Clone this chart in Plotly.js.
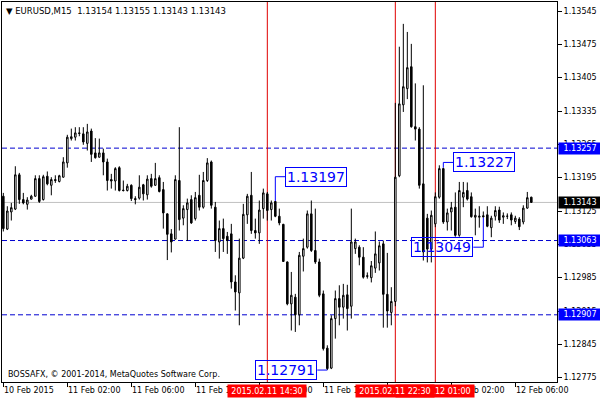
<!DOCTYPE html>
<html><head><meta charset="utf-8">
<script src="https://cdn.plot.ly/plotly-3.0.1.min.js"></script>
<style>html,body{margin:0;padding:0;background:#fff}#chart{width:600px;height:400px}</style>
</head><body><div id="chart"></div>
<script>
const symbol = 'EURUSD,M15';
const openP = [1.13156,1.13087,1.13123,1.13129,1.13201,1.13149,1.13139,1.13150,1.13156,1.13193,
1.13149,1.13198,1.13179,1.13191,1.13187,1.13196,1.13226,1.13277,1.13280,1.13289,
1.13287,1.13267,1.13293,1.13247,1.13238,1.13247,1.13228,1.13191,1.13188,1.13216,
1.13169,1.13168,1.13179,1.13151,1.13152,1.13180,1.13159,1.13193,1.13179,1.13195,
1.13170,1.13119,1.13077,1.13066,1.13189,1.13110,1.13128,1.13149,1.13109,1.13158,
1.13133,1.13189,1.13228,1.13133,1.13060,1.13088,1.13072,1.13077,1.12976,1.12953,
1.13026,1.13117,1.13158,1.13084,1.13079,1.13130,1.13161,1.13128,1.13145,1.13114,
1.13097,1.13018,1.12930,1.12944,1.12907,1.13030,1.13049,1.13119,1.13042,1.13018,
1.12951,1.12837,1.12795,1.12899,1.12941,1.12923,1.12949,1.12925,1.13046,1.13049,
1.13028,1.12989,1.12985,1.13005,1.13016,1.13056,1.12950,1.12912,1.12935,1.13199,
1.13348,1.13382,1.13428,1.13302,1.13297,1.13182,1.13110,1.13045,1.13098,1.13154,
1.13214,1.13102,1.13123,1.13133,1.13074,1.13154,1.13168,1.13155,1.13112,1.13112,
1.13115,1.13117,1.13090,1.13114,1.13127,1.13112,1.13114,1.13117,1.13103,1.13108,
1.13102,1.13131,1.13154];
const highP = [1.13163,1.13135,1.13142,1.13219,1.13205,1.13163,1.13154,1.13159,1.13200,1.13200,
1.13201,1.13208,1.13196,1.13200,1.13201,1.13238,1.13285,1.13298,1.13301,1.13301,
1.13301,1.13308,1.13298,1.13278,1.13277,1.13256,1.13235,1.13203,1.13217,1.13219,
1.13189,1.13182,1.13181,1.13156,1.13200,1.13182,1.13200,1.13203,1.13226,1.13200,
1.13186,1.13120,1.13087,1.13200,1.13301,1.13137,1.13151,1.13158,1.13165,1.13201,
1.13207,1.13236,1.13231,1.13144,1.13105,1.13109,1.13081,1.13098,1.12990,1.13067,
1.13140,1.13161,1.13207,1.13109,1.13147,1.13172,1.13165,1.13147,1.13146,1.13130,
1.13098,1.13019,1.12997,1.12951,1.13039,1.13067,1.13126,1.13147,1.13130,1.13025,
1.12958,1.12843,1.12906,1.12958,1.12969,1.12972,1.12970,1.13130,1.13067,1.13053,
1.13049,1.12996,1.13020,1.13082,1.13061,1.13063,1.13037,1.12965,1.13352,1.13470,
1.13518,1.13501,1.13476,1.13393,1.13301,1.13389,1.13119,1.13126,1.13164,1.13221,
1.13216,1.13130,1.13144,1.13164,1.13186,1.13186,1.13185,1.13164,1.13130,1.13135,
1.13124,1.13135,1.13115,1.13135,1.13134,1.13122,1.13120,1.13122,1.13115,1.13112,
1.13137,1.13165,1.13155];
const lowP = [1.13082,1.13085,1.13105,1.13127,1.13140,1.13139,1.13128,1.13149,1.13155,1.13142,
1.13147,1.13179,1.13158,1.13184,1.13185,1.13195,1.13216,1.13273,1.13273,1.13282,
1.13264,1.13252,1.13228,1.13235,1.13237,1.13200,1.13168,1.13172,1.13168,1.13166,
1.13166,1.13166,1.13146,1.13139,1.13149,1.13147,1.13149,1.13174,1.13178,1.13164,
1.13088,1.13022,1.13038,1.13065,1.13084,1.13095,1.13062,1.13098,1.13105,1.13126,
1.13130,1.13186,1.13130,1.13039,1.13025,1.13039,1.13035,1.12962,1.12916,1.12885,
1.13024,1.13098,1.13077,1.13067,1.13056,1.13109,1.13105,1.13105,1.13112,1.13095,
1.13018,1.12927,1.12874,1.12871,1.12885,1.12998,1.13046,1.13039,1.13014,1.12944,
1.12832,1.12791,1.12793,1.12857,1.12885,1.12899,1.12874,1.12899,1.13035,1.13011,
1.12983,1.12983,1.12975,1.12995,1.13000,1.12880,1.12880,1.12885,1.12925,1.13196,
1.13333,1.13360,1.13300,1.13273,1.13172,1.13021,1.13017,1.13017,1.13091,1.13151,
1.13098,1.13084,1.13084,1.13071,1.13071,1.13133,1.13147,1.13111,1.13074,1.13090,
1.13111,1.13091,1.13070,1.13105,1.13100,1.13098,1.13108,1.13095,1.13098,1.13085,
1.13097,1.13130,1.13143];
const closeP = [1.13088,1.13125,1.13132,1.13201,1.13149,1.13142,1.13148,1.13156,1.13193,1.13145,
1.13197,1.13182,1.13191,1.13189,1.13199,1.13228,1.13280,1.13281,1.13289,1.13288,
1.13270,1.13291,1.13244,1.13237,1.13247,1.13228,1.13189,1.13188,1.13214,1.13168,
1.13168,1.13177,1.13151,1.13149,1.13175,1.13161,1.13192,1.13177,1.13193,1.13166,
1.13121,1.13076,1.13060,1.13191,1.13107,1.13130,1.13142,1.13100,1.13153,1.13133,
1.13189,1.13226,1.13137,1.13063,1.13088,1.13067,1.13063,1.12976,1.12955,1.13026,
1.13118,1.13156,1.13084,1.13079,1.13127,1.13163,1.13126,1.13142,1.13114,1.13100,
1.13019,1.12930,1.12948,1.12907,1.13032,1.13046,1.13119,1.13042,1.13018,1.12948,
1.12836,1.12794,1.12899,1.12941,1.12923,1.12948,1.12920,1.13060,1.13060,1.13028,
1.12986,1.12988,1.13010,1.13035,1.13052,1.12950,1.12915,1.12935,1.13196,1.13350,
1.13386,1.13426,1.13302,1.13297,1.13179,1.13039,1.13045,1.13116,1.13155,1.13214,
1.13102,1.13121,1.13132,1.13074,1.13168,1.13164,1.13150,1.13113,1.13116,1.13114,
1.13113,1.13093,1.13110,1.13126,1.13106,1.13115,1.13114,1.13106,1.13110,1.13092,
1.13131,1.13153,1.13143];

const xTickIdx = [0, 16, 32, 48, 64, 80, 96, 112, 128];
const xTickText = ['10 Feb 2015','11 Feb 02:00','11 Feb 06:00','11 Feb 10:00','11 Feb 14:00',
                   '11 Feb 18:00','11 Feb 22:00','12 Feb 02:00','12 Feb 06:00'];
const yTickVals = [1.12775,1.12845,1.12915,1.12985,1.13055,1.13125,1.13195,1.13265,1.13335,1.13405,1.13475,1.13545];
const hLinePrices = [1.13257, 1.13063, 1.12907];
const bidPrice = 1.13143;
const vLineIdx = [66, 98, 108];
const vLineText = ['2015.02.11 14:30', '2015.02.11 22:30', '2015.02.12 01:00'];
const markIdx = [68, 110, 81, 120];
const markPrice = [1.13197, 1.13227, 1.12791, 1.13049];
const markSide = ['high', 'high', 'low', 'low'];
const copyright = 'BOSSAFX, \u00a9 2001-2014, MetaQuotes Software Corp.';

const FONT = 'DejaVu Sans, Verdana, sans-serif';
const idx = openP.map((_, i) => i);
const last = openP.length - 1;

const candles = {
  type: 'candlestick', x: idx, open: openP, high: highP, low: lowP, close: closeP,
  increasing: {line: {color: '#000000', width: 1}, fillcolor: '#ffffff'},
  decreasing: {line: {color: '#000000', width: 1}, fillcolor: '#000000'},
  whiskerwidth: 0, hoverinfo: 'none', showlegend: false
};

const cx = [], cy = [];
markIdx.forEach((m, k) => {
  cx.push(m, m, null);
  cy.push(markPrice[k], markSide[k] === 'high' ? highP[m] : lowP[m], null);
});
const connectors = {type: 'scatter', mode: 'lines', x: cx, y: cy,
  line: {color: '#0000ff', width: 1}, hoverinfo: 'none', showlegend: false};

const shapes = [];
hLinePrices.forEach(p => shapes.push({type: 'line', xref: 'paper', x0: 0, x1: 1, yref: 'y', y0: p, y1: p,
  line: {color: '#0000d0', width: 1, dash: '5px,3px'}, layer: 'below'}));
shapes.push({type: 'line', xref: 'paper', x0: 0, x1: 1, yref: 'y', y0: bidPrice, y1: bidPrice,
  line: {color: '#c0c0c0', width: 1}, layer: 'below'});
vLineIdx.forEach(v => shapes.push({type: 'line', xref: 'x', x0: v, x1: v, yref: 'paper', y0: 0, y1: 1,
  line: {color: '#e00000', width: 1}, layer: 'below'}));

const ann = [];
// header
ann.push({xref: 'paper', yref: 'paper', x: 0, y: 1, xanchor: 'left', yanchor: 'top', xshift: 2, yshift: -2,
  showarrow: false, font: {family: FONT, size: 8.5, color: '#000'},
  text: '\u25bc ' + symbol + '\u00a0\u00a0' + [openP[last], highP[last], lowP[last], closeP[last]].map(v => v.toFixed(5)).join(' ')});
// copyright
ann.push({xref: 'paper', yref: 'paper', x: 0, y: 0, xanchor: 'left', yanchor: 'bottom', xshift: 4, yshift: 1,
  showarrow: false, font: {family: FONT, size: 8, color: '#000'}, text: copyright});
// x tick labels
xTickIdx.forEach((t, k) => ann.push({xref: 'x', yref: 'paper', x: t, y: 0, xanchor: 'left', yanchor: 'top',
  xshift: -1, yshift: -2, showarrow: false, font: {family: FONT, size: 8, color: '#000'}, text: xTickText[k]}));
// red time boxes: first box, then later ones in reverse so the 22:30 box lies over the 01:00 box
[...vLineIdx.keys()].sort((a, b) => (a === 0 ? -1 : b === 0 ? 1 : b - a)).forEach(k => ann.push({
  xref: 'x', yref: 'paper', x: vLineIdx[k], y: 0, xanchor: 'center', yanchor: 'top', yshift: -2,
  showarrow: false, bgcolor: '#ff0000', borderpad: 0, width: 78, height: 12,
  font: {family: FONT, size: 8, color: '#ffffff'}, text: vLineText[k]}));
// price boxes on right axis
hLinePrices.forEach(p => ann.push({xref: 'paper', yref: 'y', x: 1, y: p, xanchor: 'left', yanchor: 'middle',
  xshift: 1, showarrow: false, bgcolor: '#0000ff', borderpad: 0, width: 42, height: 11,
  font: {family: FONT, size: 8, color: '#ffffff'}, text: p.toFixed(5)}));
ann.push({xref: 'paper', yref: 'y', x: 1, y: bidPrice, xanchor: 'left', yanchor: 'middle',
  xshift: 1, showarrow: false, bgcolor: '#000000', borderpad: 0, width: 42, height: 11,
  font: {family: FONT, size: 8, color: '#ffffff'}, text: bidPrice.toFixed(5)});
// marked price labels (transparent boxes, as in the reference)
markIdx.forEach((m, k) => {
  const hi = markSide[k] === 'high';
  ann.push({xref: 'x', yref: 'y', x: m, y: markPrice[k], showarrow: true, arrowhead: 0, arrowwidth: 1,
    arrowcolor: '#0000ff', standoff: 0, ax: hi ? 10 : -10, ay: 0, xanchor: hi ? 'left' : 'right', yanchor: 'middle',
    bgcolor: 'rgba(0,0,0,0)', bordercolor: '#0000ff', borderwidth: 1, borderpad: 1,
    font: {family: FONT, size: 14, color: '#0000ff'}, text: markPrice[k].toFixed(5)});
});

const layout = {
  width: 600, height: 400, margin: {l: 2, r: 43, t: 2, b: 18},
  paper_bgcolor: '#ffffff', plot_bgcolor: '#ffffff', showlegend: false, boxgap: 0.45,
  xaxis: {range: [-0.33, 138.42], showgrid: false, zeroline: false, showline: true, linecolor: '#000', linewidth: 1,
    mirror: true, ticks: 'outside', ticklen: 4, tickcolor: '#000', tickvals: xTickIdx, showticklabels: false,
    rangeslider: {visible: false}, fixedrange: true},
  yaxis: {side: 'right', range: [1.127659, 1.135639], showgrid: false, zeroline: false, showline: true,
    linecolor: '#000', linewidth: 1, mirror: true, ticks: 'outside', ticklen: 4, tickcolor: '#000',
    tickvals: yTickVals, tickformat: '.5f', tickfont: {family: FONT, size: 8, color: '#000'}, fixedrange: true},
  shapes: shapes, annotations: ann
};

Plotly.newPlot('chart', [candles, connectors], layout, {displayModeBar: false, staticPlot: true});
</script></body></html>
